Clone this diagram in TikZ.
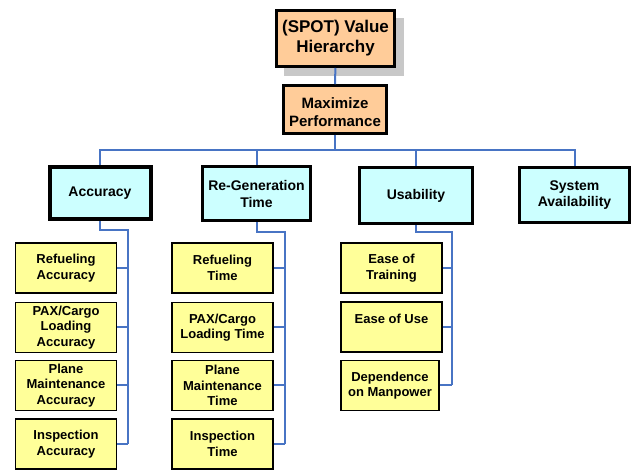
\documentclass[tikz,border=0pt]{standalone}
\usepackage{fontspec}
\setmainfont{Liberation Sans}
\usepackage{tikz}
\usetikzlibrary{shapes,arrows,positioning}
\definecolor{orangefill}{RGB}{255,204,153}
\definecolor{cyanfill}{RGB}{204,255,255}
\definecolor{yellowfill}{RGB}{255,255,153}
\definecolor{linkblue}{RGB}{72,116,196}
\definecolor{shadowgray}{RGB}{200,200,200}
\tikzstyle{topnode} = [rectangle, draw, fill=orangefill, line width=3pt, align=center, font=\fontsize{17}{20}\bfseries, inner sep=0pt]
\tikzstyle{goalnode} = [rectangle, draw, fill=cyanfill, line width=3pt, align=center, font=\fontsize{14}{16.5}\bfseries, inner sep=0pt, minimum height=54pt]
\tikzstyle{leafnode} = [rectangle, draw, fill=yellowfill, line width=1.8pt, align=center, font=\fontsize{13}{15.5}\bfseries, inner sep=0pt, minimum width=101pt, minimum height=50pt]
\tikzstyle{line} = [draw, linkblue, line width=2pt]

\begin{document}
\begin{tikzpicture}[x=1pt, y=-1pt]
			\useasboundingbox (0,0) rectangle (633,470);
			\fill [shadowgray] (284,18) rectangle (404,76);
			\node [topnode, minimum width=118pt, minimum height=56pt] (value) at (335.5,38.5) {(SPOT) Value\\Hierarchy};
			\node [topnode, line width=2.5pt, font=\fontsize{15}{18}\bfseries, minimum width=103pt, minimum height=48pt, text height=35pt] (perf) at (335,109.5) {Maximize\\Performance};
			
			\node [goalnode, line width=4pt, minimum width=101pt, minimum height=52pt] (acc) at (100,193.5) {Accuracy};
			\node [goalnode, minimum width=108pt] (regen) at (256.5,194) {Re-Generation\\Time};
			\node [goalnode, minimum width=113pt, minimum height=56pt] (usab) at (416,195.5) {Usability};
			\node [goalnode, minimum width=110pt, minimum height=55pt] (sysav) at (574.5,195) {System\\Availability};
			
			\node [leafnode] (refacc) at (66,268) {Refueling\\Accuracy};
			\node [leafnode] (paxacc) at (66,327.5) {PAX/Cargo\\Loading\\Accuracy};
			\node [leafnode] (plnacc) at (66,385.5) {Plane\\Maintenance\\Accuracy};
			\node [leafnode] (insacc) at (66,444) {Inspection\\Accuracy};
			
			\node [leafnode] (reftime) at (222.5,268) {Refueling\\Time};
			\node [leafnode] (paxtime) at (222.5,327.5) {PAX/Cargo\\Loading Time};
			\node [leafnode] (plntime) at (222.5,385.5) {Plane\\Maintenance\\Time};
			\node [leafnode] (instime) at (222.5,444) {Inspection\\Time};
			
			\node [leafnode] (train) at (391.5,268) {Ease of\\Training};
			\node [leafnode] (use) at (391.5,327) {Ease of Use\\~};
			\node [leafnode, minimum width=98pt] (manp) at (390,385.5) {Dependence\\on Manpower};
			
			\coordinate (rail) at (335,150);
			\coordinate (accbus) at (128,230);
			\coordinate (regenbus) at (285,232);
			\coordinate (usabbus) at (452,232);
			
			\path [line] (value) -- (perf);
			\path [line] (perf) -- (rail);
			\path [line] (rail) -| (acc);
			\path [line] (rail) -| (regen);
			\path [line] (rail) -| (usab);
			\path [line] (rail) -| (sysav);
			
			\path [line] (acc) |- (accbus) -- (accbus |- insacc.east);
			\path [line] (refacc) -- (accbus |- refacc.east);
			\path [line] (paxacc) -- (accbus |- paxacc.east);
			\path [line] (plnacc) -- (accbus |- plnacc.east);
			\path [line] (insacc) -- (accbus |- insacc.east);
			
			\path [line] (regen) |- (regenbus) -- (regenbus |- instime.east);
			\path [line] (reftime) -- (regenbus |- reftime.east);
			\path [line] (paxtime) -- (regenbus |- paxtime.east);
			\path [line] (plntime) -- (regenbus |- plntime.east);
			\path [line] (instime) -- (regenbus |- instime.east);
			
			\path [line] (usab) |- (usabbus) -- (usabbus |- manp.east);
			\path [line] (train) -- (usabbus |- train.east);
			\path [line] (use) -- (usabbus |- use.east);
			\path [line] (manp) -- (usabbus |- manp.east);
		\end{tikzpicture}
\end{document}
